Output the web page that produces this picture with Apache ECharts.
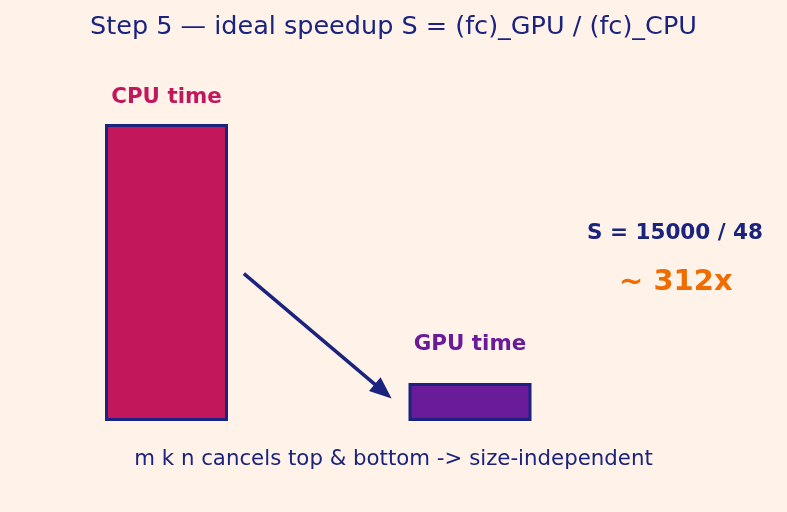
<!DOCTYPE html>
<html>
<head>
<meta charset="utf-8">
<script src="https://cdn.jsdelivr.net/npm/echarts@6/dist/echarts.min.js"></script>
<style>
html, body { margin: 0; padding: 0; background: #FFF2E8; }
#main { width: 787px; height: 512px; }
</style>
</head>
<body>
<div id="main"></div>
<script>
// bars: relative time, CPU normalised to 1
var labels = ['CPU time', 'GPU time'];
var times = [1.0, 0.128];
var slots = [0, 1];
var fills = ['#C2185B', '#6A1B9A'];
var labelGaps = [16, 28];

// arrow from CPU bar toward GPU bar (data space)
var arrowFrom = [0.255, 0.496];
var arrowTo = [0.714, 0.1];

var ratioText = 'S = 15000 / 48';
var speedupText = '~ 312x';

var navy = '#1A237E';
var font = 'DejaVu Sans';

var myChart = echarts.init(document.getElementById('main'));

var barData = [];
for (var i = 0; i < times.length; i++) {
    barData.push({
        value: [slots[i], times[i]],
        name: labels[i],
        itemStyle: { color: fills[i] },
        label: { color: fills[i], distance: labelGaps[i] }
    });
}

var option = {
    backgroundColor: '#FFF2E8',
    animation: false,
    title: {
        text: 'Step 5 \u2014 ideal speedup S = (fc)_GPU / (fc)_CPU',
        left: 'center',
        top: 9,
        textStyle: { color: navy, fontFamily: font, fontSize: 25.5, fontWeight: 'normal' }
    },
    grid: { left: 14.75, right: 165.25, top: 64.6, bottom: 91 },
    xAxis: { type: 'value', min: -0.5, max: 1.5, show: false },
    yAxis: { type: 'value', min: 0, max: 1.2, show: false },
    series: [{
        type: 'bar',
        barWidth: 123,
        data: barData,
        itemStyle: { borderColor: navy, borderWidth: 3 },
        label: {
            show: true,
            position: 'top',
            fontFamily: font,
            fontSize: 21.4,
            fontWeight: 'bold',
            formatter: function (p) { return p.name; }
        },
        markLine: {
            silent: true,
            symbol: ['none', 'triangle'],
            symbolSize: [18, 22],
            label: { show: false },
            lineStyle: { color: navy, width: 3.5, type: 'solid' },
            data: [[{ coord: arrowFrom }, { coord: arrowTo }]]
        }
    }],
    graphic: [
        {
            type: 'text', left: 587, top: 222,
            style: { text: ratioText, fill: navy, font: 'bold 21.5px "DejaVu Sans"' }
        },
        {
            type: 'text', left: 619, top: 268,
            style: { text: speedupText, fill: '#EF6C00', font: 'bold 29px "DejaVu Sans"' }
        },
        {
            type: 'text', left: 'center', top: 449,
            style: { text: 'm k n cancels top & bottom -> size-independent', fill: navy, font: '21.3px "DejaVu Sans"' }
        }
    ]
};

myChart.setOption(option);
</script>
</body>
</html>
